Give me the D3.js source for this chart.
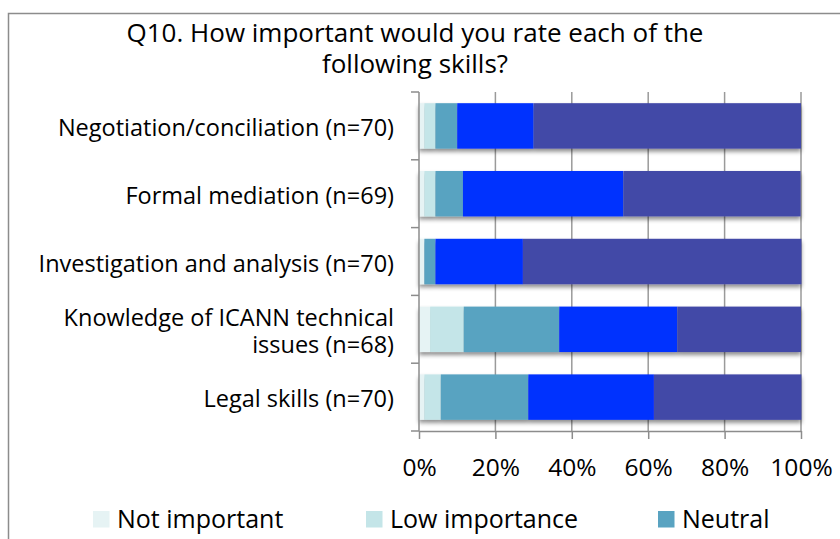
<!DOCTYPE html>
<html>
<head>
<meta charset="utf-8">
<script src="https://cdn.jsdelivr.net/npm/d3@7"></script>
<style>
  html, body { margin: 0; padding: 0; background: #fff; }
  svg { display: block; font-family: "Open Sans", "Noto Sans", sans-serif; }
</style>
</head>
<body>
<svg id="chart" width="840" height="539"></svg>
<script>
// Survey skills: share of responses per importance level (percent of n)
const categories = [
  "Negotiation/conciliation (n=70)",
  "Formal mediation (n=69)",
  "Investigation and analysis (n=70)",
  "Knowledge of ICANN technical issues (n=68)",
  "Legal skills (n=70)"
];
const categoryLines = [
  ["Negotiation/conciliation (n=70)"],
  ["Formal mediation (n=69)"],
  ["Investigation and analysis (n=70)"],
  ["Knowledge of ICANN technical", "issues (n=68)"],
  ["Legal skills (n=70)"]
];
const seriesNames = ["Not important", "Low importance", "Neutral", "Important", "Very important"];
const notImportant  = [1.4, 1.4, 1.4, 2.9, 1.4];
const lowImportance = [2.9, 2.9, 0.0, 8.8, 4.3];
const neutral       = [5.7, 7.2, 2.9, 25.0, 22.9];
const important     = [20.0, 42.0, 22.9, 30.9, 32.9];
const veryImportant = [70.0, 46.4, 72.9, 32.4, 38.6];
const xTicks = [0, 20, 40, 60, 80, 100];
const colors = ["#e6f3f4", "#c4e5e8", "#59a3c1", "#0530fe", "#4348a7"];

const seriesValues = [notImportant, lowImportance, neutral, important, veryImportant];
const rows = categories.map((c, i) => {
  const r = { category: c };
  seriesNames.forEach((s, k) => r[s] = seriesValues[k][i]);
  return r;
});
const stacked = d3.stack().keys(seriesNames)(rows);

const svg = d3.select("#chart");
const plot = { left: 419, right: 801, top: 92, bottom: 431 };

// Outer frame of the chart area
svg.append("rect")
  .attr("x", 8.5).attr("y", 13.5)
  .attr("width", 900).attr("height", 600)
  .attr("fill", "none").attr("stroke", "#8c8c8c").attr("stroke-width", 1.5);

const defs = svg.append("defs");
const shadow = defs.append("filter").attr("id", "barShadow")
  .attr("x", "-5%").attr("y", "-20%").attr("width", "110%").attr("height", "150%");
shadow.append("feDropShadow")
  .attr("dx", 0).attr("dy", 3).attr("stdDeviation", 2)
  .attr("flood-color", "#000").attr("flood-opacity", 0.45);

const x = d3.scaleLinear().domain([0, 100]).range([plot.left, plot.right]);
const y = d3.scaleBand().domain(categories).range([plot.top, plot.bottom]).paddingInner(0.33).paddingOuter(0.165);
const yOuter = d3.scaleBand().domain(categories).range([plot.top, plot.bottom]);

// Vertical gridlines
svg.append("g").selectAll("line").data(xTicks.slice(1)).join("line")
  .attr("x1", d => x(d)).attr("x2", d => x(d))
  .attr("y1", plot.top).attr("y2", plot.bottom)
  .attr("stroke", "#9a9a9a").attr("stroke-width", 1.5);

// Stacked bars
const barLayer = svg.append("g");
categories.forEach(c => {
  const g = barLayer.append("g").attr("filter", "url(#barShadow)");
  stacked.forEach((layer, k) => {
    const d = layer.find(p => p.data.category === c);
    g.append("rect")
      .attr("x", x(d[0]))
      .attr("y", y(c))
      .attr("width", Math.max(0, x(d[1]) - x(d[0])))
      .attr("height", y.bandwidth())
      .attr("fill", colors[k]);
  });
});

// Y axis with ticks between categories
const yAxis = svg.append("g");
yAxis.append("line")
  .attr("x1", plot.left).attr("x2", plot.left)
  .attr("y1", plot.top).attr("y2", plot.bottom)
  .attr("stroke", "#8c8c8c").attr("stroke-width", 1.5);
const yTickPos = categories.map(c => yOuter(c)).concat([plot.bottom]);
yAxis.selectAll(".ytick").data(yTickPos).join("line")
  .attr("x1", plot.left - 8).attr("x2", plot.left)
  .attr("y1", d => d).attr("y2", d => d)
  .attr("stroke", "#8c8c8c").attr("stroke-width", 1.5);

// X axis
const xAxis = svg.append("g").attr("transform", `translate(0,${plot.bottom})`)
  .call(d3.axisBottom(x).tickValues(xTicks).tickFormat(d => d + "%").tickSizeInner(8).tickSizeOuter(0));
xAxis.select(".domain").attr("stroke", "#8c8c8c").attr("stroke-width", 1.5);
xAxis.selectAll(".tick line").attr("stroke", "#8c8c8c").attr("stroke-width", 1.5);
xAxis.selectAll(".tick text")
  .attr("font-family", "'Open Sans', 'Noto Sans', sans-serif")
  .attr("font-size", 24.5).attr("fill", "#000")
  .attr("dy", null).attr("y", 45);

// Category labels
const labels = svg.append("g").attr("font-size", 23.5).attr("fill", "#000").attr("text-anchor", "end");
categories.forEach((c, i) => {
  const lines = categoryLines[i];
  const cy = y(c) + y.bandwidth() / 2;
  const lh = 27;
  const t = labels.append("text").attr("x", 394);
  lines.forEach((ln, j) => {
    t.append("tspan").attr("x", 394)
      .attr("y", cy + 10 + (j - (lines.length - 1) / 2) * lh)
      .text(ln);
  });
});

// Title
const title = svg.append("text").attr("text-anchor", "middle").attr("font-size", 26).attr("fill", "#000");
title.append("tspan").attr("x", 415).attr("y", 42).text("Q10. How important would you rate each of the");
title.append("tspan").attr("x", 415).attr("y", 73).text("following skills?");

// Legend (first three entries fit within the frame)
const legendX = [93, 366, 658];
const legend = svg.append("g");
seriesNames.slice(0, 3).forEach((s, k) => {
  legend.append("rect").attr("x", legendX[k]).attr("y", 511)
    .attr("width", 16.5).attr("height", 16.5).attr("fill", colors[k]);
  legend.append("text").attr("x", legendX[k] + 24).attr("y", 527.5)
    .attr("font-size", 25).attr("fill", "#000").text(s);
});
</script>
</body>
</html>
